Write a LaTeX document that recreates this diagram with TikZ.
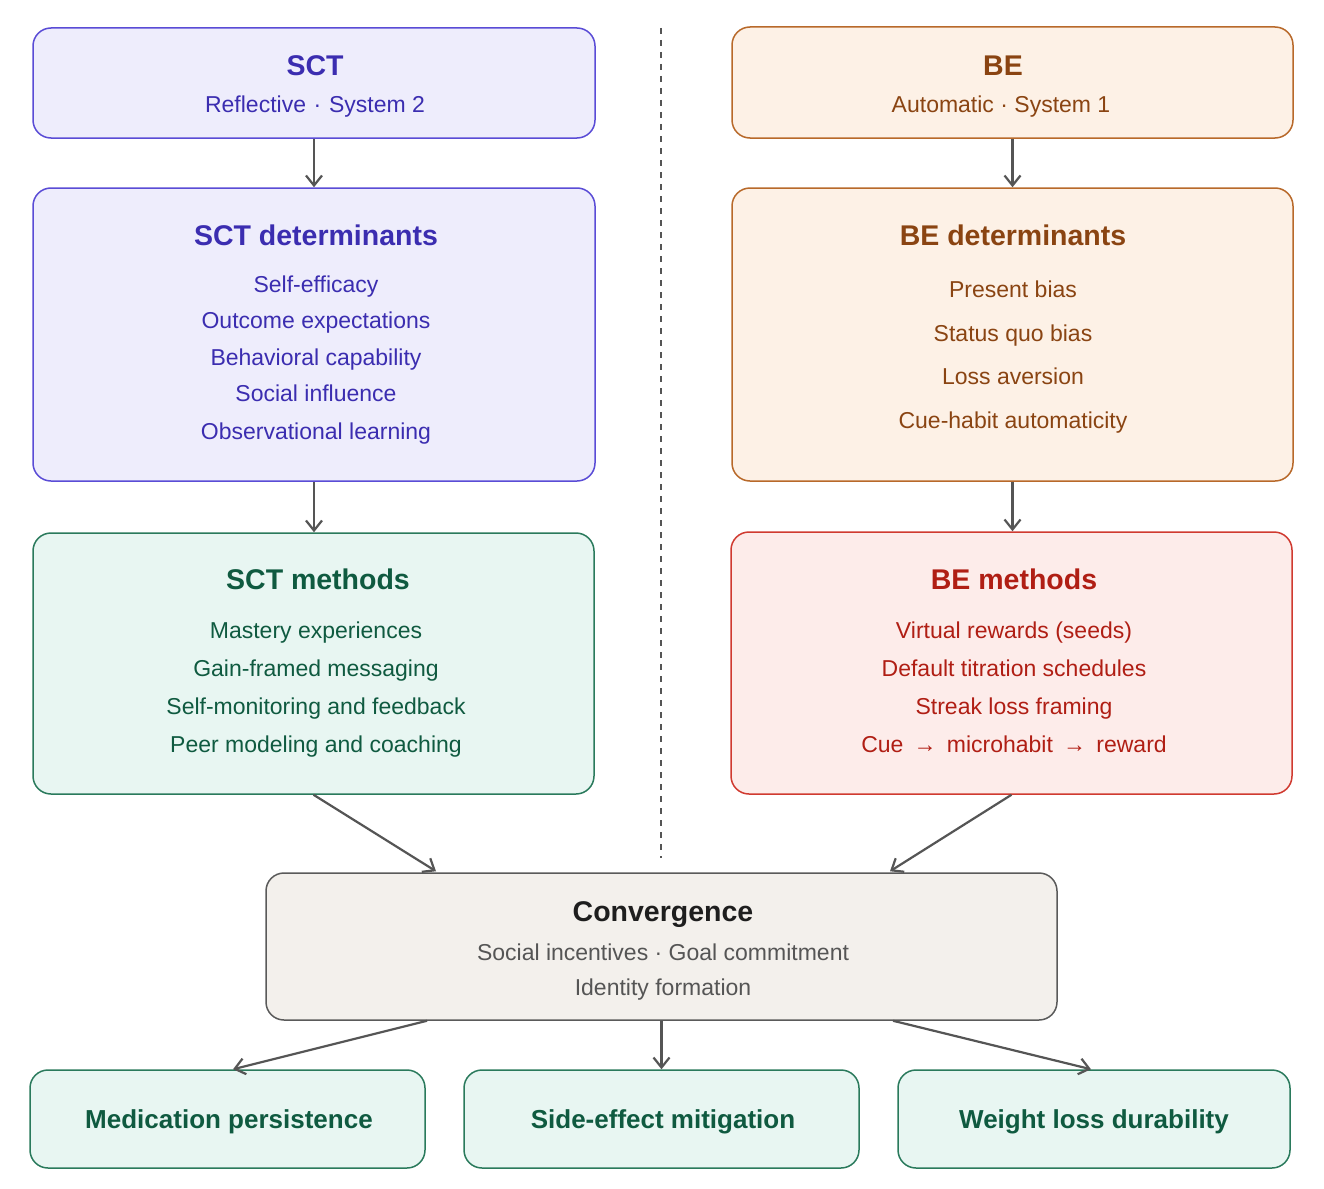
\documentclass[tikz,border=0pt]{standalone}
\usepackage{fontspec}
\setmainfont{Liberation Sans}
\usetikzlibrary{arrows.meta}
\definecolor{sctF}{HTML}{EEEDFC}
\definecolor{sctD}{HTML}{5A4CD6}
\definecolor{sctT}{HTML}{3B2DB0}
\definecolor{beF}{HTML}{FDF1E6}
\definecolor{beD}{HTML}{B8692A}
\definecolor{beT}{HTML}{8A4412}
\definecolor{gmF}{HTML}{E8F6F2}
\definecolor{gmD}{HTML}{2A7A5C}
\definecolor{gmT}{HTML}{0F5A40}
\definecolor{bmF}{HTML}{FDECEA}
\definecolor{bmD}{HTML}{D03A30}
\definecolor{bmT}{HTML}{B01E14}
\definecolor{cvF}{HTML}{F3F0EC}
\definecolor{cvD}{HTML}{5A5A5A}
\definecolor{cvT}{HTML}{1E1E1E}
\definecolor{cvB}{HTML}{555555}
\definecolor{arrC}{HTML}{555555}
\tikzset{
  box/.style={draw, rounded corners=18pt, line width=1.5pt, inner sep=0pt},
  ttl/.style={anchor=base, inner sep=0pt, font=\fontsize{28.5}{34}\selectfont\bfseries},
  itm/.style={anchor=base, inner sep=0pt, font=\fontsize{23}{28}\selectfont},
  outt/.style={anchor=base, inner sep=0pt, font=\fontsize{26}{31}\selectfont\bfseries, text=gmT},
  arr/.style={draw=arrC, line width=2.2pt, -{Straight Barb[length=10pt,width=16pt,line width=2.2pt]}}
}
\begin{document}
\begin{tikzpicture}[x=1pt,y=-1pt]
\useasboundingbox[fill=white] (0,0) rectangle (1324,1188);
% divider
\draw[arrC, line width=1.5pt, dash pattern=on 6pt off 6pt] (661,28) -- (661,858);
% boxes
\node[box, fill=sctF, draw=sctD, minimum width=562, minimum height=110] (sct) at (314,83) {};
\node[box, fill=beF, draw=beD, minimum width=561, minimum height=111] (be) at (1012.5,82.5) {};
\node[box, fill=sctF, draw=sctD, minimum width=562, minimum height=293] (sctd) at (314,334.5) {};
\node[box, fill=beF, draw=beD, minimum width=561, minimum height=293] (bed) at (1012.5,334.5) {};
\node[box, fill=gmF, draw=gmD, minimum width=561, minimum height=261] (sctm) at (313.5,663.5) {};
\node[box, fill=bmF, draw=bmD, minimum width=561, minimum height=262] (bem) at (1011.5,663) {};
\node[box, fill=cvF, draw=cvD, minimum width=791, minimum height=147] (conv) at (661.5,946.5) {};
\node[box, fill=gmF, draw=gmD, minimum width=395, minimum height=98] (o1) at (227.5,1119) {};
\node[box, fill=gmF, draw=gmD, minimum width=395, minimum height=98] (o2) at (661.5,1119) {};
\node[box, fill=gmF, draw=gmD, minimum width=392, minimum height=98] (o3) at (1094,1119) {};
% texts SCT
\node[ttl, text=sctT] (t1) at (315,76) {SCT};
\node[itm, text=sctT] (s1) at (315,113) {Reflective\,\,·\,\,System 2};
\node[ttl, text=sctT] (t2) at (316,245) {SCT determinants};
\node[itm, text=sctT] (s2a) at (316,292) {Self-efficacy};
\node[itm, text=sctT] (s2b) at (316,328) {Outcome expectations};
\node[itm, text=sctT] (s2c) at (316,365) {Behavioral capability};
\node[itm, text=sctT] (s2d) at (316,401) {Social influence};
\node[itm, text=sctT] (s2e) at (316,439) {Observational learning};
\node[ttl, text=gmT] (t3) at (318,589) {SCT methods};
\node[itm, text=gmT] (s3a) at (316,638) {Mastery experiences};
\node[itm, text=gmT] (s3b) at (316,676) {Gain-framed messaging};
\node[itm, text=gmT] (s3c) at (316,714) {Self-monitoring and feedback};
\node[itm, text=gmT] (s3d) at (316,752) {Peer modeling and coaching};
% texts BE
\node[ttl, text=beT] (t4) at (1003,76) {BE};
\node[itm, text=beT] (s4) at (1001,113) {Automatic · System 1};
\node[ttl, text=beT] (t5) at (1013,245) {BE determinants};
\node[itm, text=beT] (s5a) at (1013,297) {Present bias};
\node[itm, text=beT] (s5b) at (1013,341) {Status quo bias};
\node[itm, text=beT] (s5c) at (1013,384) {Loss aversion};
\node[itm, text=beT] (s5d) at (1013,428) {Cue-habit automaticity};
\node[ttl, text=bmT] (t6) at (1014,589) {BE methods};
\node[itm, text=bmT] (s6a) at (1014,638) {Virtual rewards (seeds)};
\node[itm, text=bmT] (s6b) at (1014,676) {Default titration schedules};
\node[itm, text=bmT] (s6c) at (1014,714) {Streak loss framing};
\node[itm, text=bmT] (s6d) at (1014,752) {Cue \,→\, microhabit \,→\, reward};
% convergence
\node[ttl, text=cvT] (t7) at (663,921) {Convergence};
\node[itm, text=cvB] (s7a) at (663,960) {Social incentives · Goal commitment};
\node[itm, text=cvB] (s7b) at (663,995) {Identity formation};
% outcomes
\node[outt] (u1) at (229,1128) {Medication persistence};
\node[outt] (u2) at (663,1128) {Side-effect mitigation};
\node[outt] (u3) at (1094,1128) {Weight loss durability};
% arrows
\draw[arr] (sct.south) -- (sct.south |- sctd.north);
\draw[arr] (be.south) -- (be.south |- bed.north);
\draw[arr] (sctd.south) -- (sctd.south |- sctm.north);
\draw[arr] (bed.south) -- (bed.south |- bem.north);
\draw[arr] (sctm.south) -- ([xshift=-225.5,yshift=1]conv.north);
\draw[arr] (bem.south) -- ([xshift=228.5,yshift=1]conv.north);
\draw[arr] ([xshift=-234.5]conv.south) -- ([xshift=5.5]o1.north);
\draw[arr] (conv.south) -- (o2.north);
\draw[arr] ([xshift=231.5]conv.south) -- ([xshift=-3]o3.north);
\end{tikzpicture}
\end{document}
